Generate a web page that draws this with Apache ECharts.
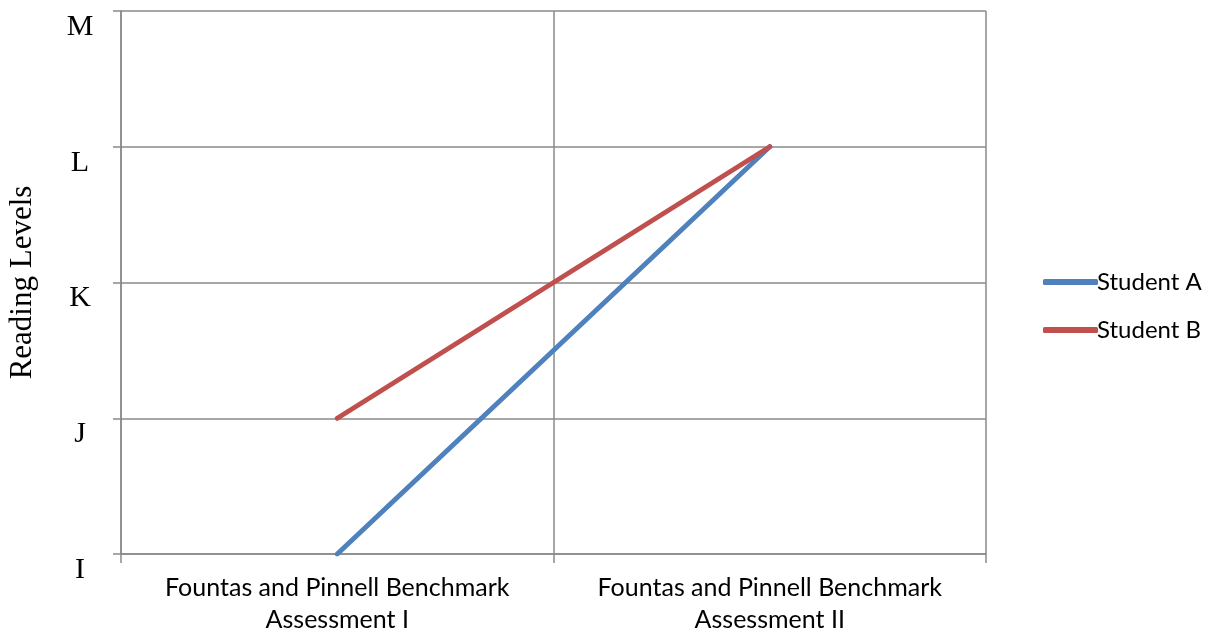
<!DOCTYPE html>
<html>
<head>
<meta charset="utf-8">
<script src="https://cdn.jsdelivr.net/npm/echarts@6/dist/echarts.min.js"></script>
<style>
  html, body { margin: 0; padding: 0; background: #fff; }
  #chart { width: 1209px; height: 635px; }
</style>
</head>
<body>
<div id="chart"></div>
<script>
// Assessment categories (x axis)
const assessments = [
  'Fountas and Pinnell Benchmark\nAssessment I',
  'Fountas and Pinnell Benchmark\nAssessment II'
];
// Guided reading levels, lowest first (y axis tick labels)
const levels = ['I', 'J', 'K', 'L', 'M'];
// Level reached by each student, as an index into `levels`
const studentA = [0, 3];
const studentB = [1, 3];

const gridColor = '#8a8a8a';
const chart = echarts.init(document.getElementById('chart'), null, { renderer: 'canvas' });

chart.setOption({
  animation: false,
  backgroundColor: '#ffffff',
  grid: { left: 121, right: 223, top: 11, bottom: 81, containLabel: false, outerBoundsMode: 'none' },
  legend: {
    orient: 'vertical',
    left: 1038,
    top: 265,
    itemWidth: 55,
    itemHeight: 6,
    itemGap: 24,
    icon: 'roundRect',
    textStyle: { fontFamily: 'Lato', fontSize: 24, color: '#000', padding: [0, 0, 0, -6] },
    data: ['Student A', 'Student B']
  },
  xAxis: {
    type: 'category',
    boundaryGap: true,
    data: assessments,
    axisLine: { show: true, lineStyle: { color: gridColor, width: 1.5 } },
    axisTick: { show: true, length: 9, alignWithLabel: false, lineStyle: { color: gridColor, width: 1.5 } },
    splitLine: { show: true, lineStyle: { color: gridColor, width: 1.5 } },
    axisLabel: {
      interval: 0,
      margin: 18,
      fontFamily: 'Lato',
      fontSize: 25,
      lineHeight: 32,
      color: '#000',
      align: 'center'
    }
  },
  yAxis: {
    type: 'value',
    min: 0,
    max: levels.length - 1,
    interval: 1,
    name: 'Reading Levels',
    nameLocation: 'middle',
    nameRotate: 90,
    nameGap: 83,
    nameTextStyle: { fontFamily: 'Liberation Serif', fontSize: 31, color: '#000' },
    axisLine: { show: true, lineStyle: { color: gridColor, width: 1.5 } },
    axisTick: { show: true, length: 8, lineStyle: { color: gridColor, width: 1.5 } },
    splitLine: { show: true, lineStyle: { color: gridColor, width: 1.5 } },
    axisLabel: {
      margin: 41,
      align: 'center',
      verticalAlign: 'top',
      padding: [1, 0, 0, 0],
      fontFamily: 'Liberation Serif',
      fontSize: 30,
      color: '#000',
      formatter: v => levels[v] || ''
    }
  },
  series: [
    {
      name: 'Student A',
      type: 'line',
      data: studentA,
      symbol: 'none',
      lineStyle: { color: '#4f81bd', width: 5, cap: 'round' },
      itemStyle: { color: '#4f81bd' }
    },
    {
      name: 'Student B',
      type: 'line',
      data: studentB,
      symbol: 'none',
      lineStyle: { color: '#c0504d', width: 5, cap: 'round' },
      itemStyle: { color: '#c0504d' }
    }
  ]
});
</script>
</body>
</html>
